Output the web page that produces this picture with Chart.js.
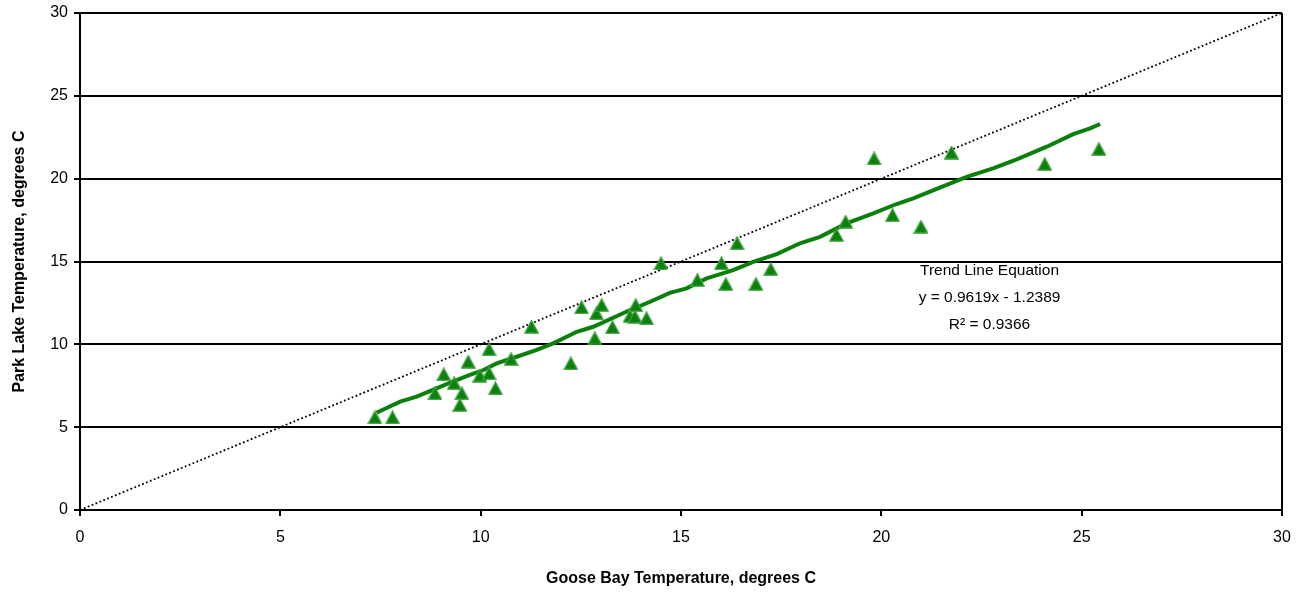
<!DOCTYPE html>
<html>
<head>
<meta charset="utf-8">
<title>Park Lake vs Goose Bay Temperature</title>
<script src="https://cdn.jsdelivr.net/npm/chart.js@4.4.1/dist/chart.umd.min.js"></script>
<style>
  html, body { margin: 0; padding: 0; background: #fff; }
  #wrap { width: 1305px; height: 592px; }
</style>
</head>
<body>
<div id="wrap"><canvas id="mycanvas" width="1305" height="592"></canvas></div>
<script>
// observed temperatures, degrees C
var gooseBay = [7.36, 7.80, 8.86, 9.08, 9.34, 9.53, 9.48, 9.69, 9.98, 10.21,
  10.21, 10.37, 10.76, 11.27, 12.25, 12.52, 12.85, 12.89, 13.02, 13.29,
  13.73, 13.85, 13.87, 14.14, 14.50, 15.41, 16.01, 16.12, 16.40, 16.87,
  17.24, 18.88, 19.11, 19.82, 20.28, 20.99, 21.75, 24.08, 25.43];
var parkLake = [5.59, 5.59, 7.04, 8.19, 7.65, 7.04, 6.34, 8.95, 8.11, 8.25,
  9.70, 7.34, 9.11, 11.06, 8.85, 12.23, 10.36, 11.87, 12.37, 11.03,
  11.71, 11.67, 12.37, 11.57, 14.89, 13.88, 14.89, 13.64, 16.10, 13.64,
  14.54, 16.60, 17.40, 21.22, 17.80, 17.10, 21.57, 20.88, 21.79];

// trend line as drawn on the original
var trendX = [7.40, 7.99, 8.40, 8.90, 9.23, 9.73, 10.07, 10.40, 10.90, 11.40,
  11.81, 12.40, 12.81, 13.73, 14.23, 14.72, 15.14, 15.64, 16.30, 16.80,
  17.39, 17.97, 18.47, 19.13, 19.80, 20.38, 20.80, 21.46, 22.13, 22.79,
  23.38, 24.13, 24.79, 25.21, 25.46];
var trendY = [5.87, 6.54, 6.84, 7.34, 7.68, 8.15, 8.45, 8.85, 9.25, 9.66,
  10.06, 10.76, 11.06, 12.07, 12.57, 13.11, 13.38, 13.98, 14.48, 14.98,
  15.45, 16.10, 16.49, 17.30, 17.91, 18.47, 18.81, 19.46, 20.11, 20.62,
  21.16, 21.93, 22.69, 23.04, 23.30];

// 1:1 reference line
var equalX = [0, 30];
var equalY = [0, 30];

var yTicks = [0, 5, 10, 15, 20, 25, 30];
var xTicks = [0, 5, 10, 15, 20, 25, 30];

var trendText = ['Trend Line Equation', 'y = 0.9619x - 1.2389', 'R\u00b2 = 0.9366'];
var trendTextAt = {x: 22.7, y: 14.45};

function pairs(xs, ys) {
  var out = [];
  for (var i in xs) {
    out.push({x: xs[i], y: ys[i]});
  }
  return out;
}

// excel-like triangle marker (taller than an equilateral one)
function triangleMarker() {
  var c = document.createElement('canvas');
  c.width = 15;
  c.height = 14;
  var g = c.getContext('2d');
  g.beginPath();
  g.moveTo(7.5, 0.8);
  g.lineTo(14.2, 13.2);
  g.lineTo(0.8, 13.2);
  g.closePath();
  g.fillStyle = '#0d7f0d';
  g.fill();
  g.lineWidth = 1.3;
  g.strokeStyle = '#3ea43e';
  g.stroke();
  return c;
}

var fontFam = '"Liberation Sans", Arial, sans-serif';

var textPlugin = {
  id: 'trendText',
  afterDatasetsDraw: function(chart) {
    var ctx = chart.ctx;
    var cx = chart.scales.x.getPixelForValue(trendTextAt.x);
    var cy = chart.scales.y.getPixelForValue(trendTextAt.y);
    ctx.save();
    ctx.fillStyle = '#000';
    ctx.font = '15.5px ' + fontFam;
    ctx.textAlign = 'center';
    ctx.textBaseline = 'middle';
    for (var i = 0; i < trendText.length; i++) {
      ctx.fillText(trendText[i], cx, cy + i * 27);
    }
    ctx.restore();
  }
};

var ctx = document.getElementById('mycanvas');

var chart = new Chart(ctx, {
  type: 'scatter',
  data: {
    datasets: [
      {
        label: 'Park Lake',
        data: pairs(gooseBay, parkLake),
        pointStyle: triangleMarker(),
        pointRadius: 7,
        pointHoverRadius: 7,
        backgroundColor: '#0d7f0d',
        borderColor: '#3ea43e',
        order: 1
      },
      {
        label: 'Trend',
        type: 'line',
        data: pairs(trendX, trendY),
        borderColor: '#0a800a',
        borderWidth: 4,
        pointRadius: 0,
        fill: false,
        tension: 0,
        order: 2
      },
      {
        label: '1:1',
        type: 'line',
        data: pairs(equalX, equalY),
        borderColor: '#000',
        borderWidth: 1.8,
        borderDash: [1.8, 2.4],
        pointRadius: 0,
        fill: false,
        order: 3
      }
    ]
  },
  options: {
    responsive: false,
    animation: false,
    layout: { padding: { left: 0, right: 23, top: 13, bottom: 0 } },
    plugins: {
      legend: { display: false },
      tooltip: { enabled: false }
    },
    scales: {
      x: {
        type: 'linear',
        min: 0,
        max: 30,
        afterBuildTicks: function(scale) {
          scale.ticks = xTicks.map(function(v) { return {value: v}; });
        },
        afterFit: function(scale) { scale.height = 82; },
        border: { display: true, color: '#000', width: 2 },
        grid: {
          drawOnChartArea: true,
          color: function(c) { return c.tick && c.tick.value === 30 ? '#000' : 'rgba(0,0,0,0)'; },
          lineWidth: 2,
          tickColor: '#000',
          tickLength: 6
        },
        ticks: {
          color: '#000',
          font: { family: fontFam, size: 16 },
          padding: 12
        },
        title: {
          display: true,
          text: 'Goose Bay Temperature, degrees C',
          color: '#000',
          font: { family: fontFam, size: 16, weight: 'bold' },
          padding: { top: 0, bottom: 4 }
        }
      },
      y: {
        type: 'linear',
        min: 0,
        max: 30,
        afterBuildTicks: function(scale) {
          scale.ticks = yTicks.map(function(v) { return {value: v}; });
        },
        afterFit: function(scale) {
          scale.width = 80;
          scale.paddingTop = 0;
          scale.paddingBottom = 0;
        },
        border: { display: true, color: '#000', width: 2 },
        grid: {
          color: '#000',
          lineWidth: 2,
          tickColor: '#000',
          tickLength: 6
        },
        ticks: {
          color: '#000',
          font: { family: fontFam, size: 16 },
          padding: 6
        },
        title: {
          display: true,
          text: 'Park Lake Temperature, degrees C',
          color: '#000',
          font: { family: fontFam, size: 16, weight: 'bold' },
          padding: { top: 10, bottom: 0 }
        }
      }
    }
  },
  plugins: [textPlugin]
});
</script>
</body>
</html>
